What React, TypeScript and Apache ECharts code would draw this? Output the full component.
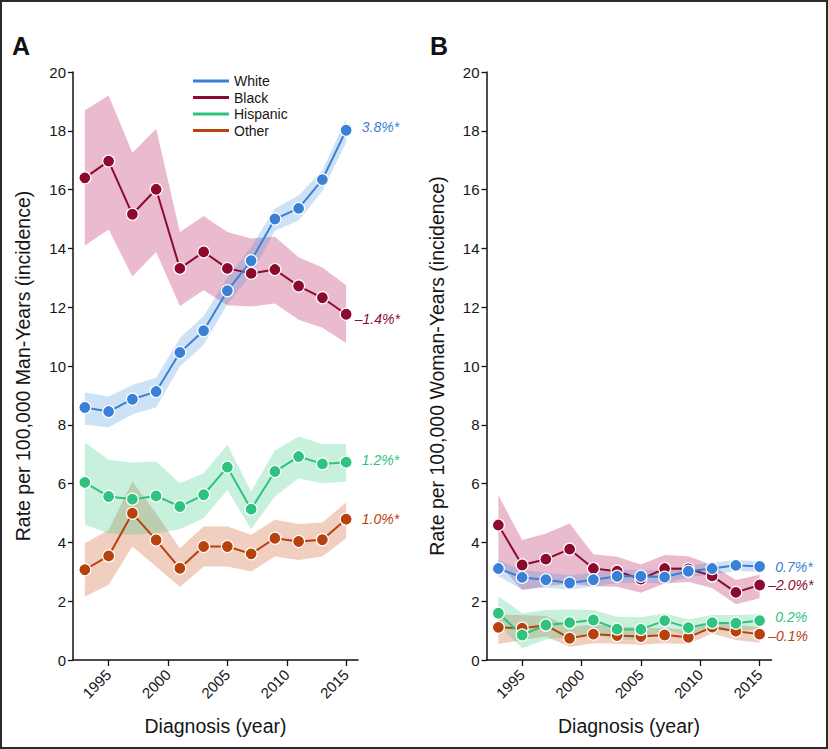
import React, { useEffect, useRef } from "react";
import * as echarts from "echarts";

const years = [1993, 1995, 1997, 1999, 2001, 2003, 2005, 2007, 2009, 2011, 2013, 2015];
const xTickValues = [1995, 2000, 2005, 2010, 2015];
const yTickValues = [0, 2, 4, 6, 8, 10, 12, 14, 16, 18, 20];
const groupNames = ["White", "Black", "Hispanic", "Other"];

// Panel A (men)
const whiteA = [8.59, 8.45, 8.87, 9.13, 10.46, 11.2, 12.56, 13.58, 15.0, 15.36, 16.34, 18.02];
const whiteAHi = [9.1, 8.96, 9.35, 9.6, 10.95, 11.7, 13.0, 14.05, 15.36, 15.8, 16.66, 18.4];
const whiteALo = [8.0, 7.92, 8.35, 8.6, 9.98, 10.72, 12.1, 13.1, 14.6, 14.95, 15.95, 17.6];
const blackA = [16.4, 16.97, 15.16, 16.01, 13.32, 13.88, 13.32, 13.15, 13.28, 12.72, 12.32, 11.76];
const blackAHi = [18.7, 19.2, 17.25, 18.07, 14.56, 15.1, 14.56, 14.34, 14.4, 13.7, 13.35, 12.75];
const blackALo = [14.1, 14.64, 13.04, 13.88, 12.04, 12.58, 12.07, 12.02, 12.13, 11.57, 11.3, 10.78];
const hispA = [6.04, 5.56, 5.47, 5.58, 5.22, 5.62, 6.56, 5.13, 6.41, 6.92, 6.67, 6.73];
const hispAHi = [7.4, 6.81, 6.72, 6.75, 6.01, 6.35, 7.32, 5.73, 7.13, 7.6, 7.35, 7.35];
const hispALo = [4.6, 4.31, 4.26, 4.31, 4.45, 4.82, 5.78, 4.45, 5.56, 6.18, 6.01, 6.07];
const otherA = [3.07, 3.54, 4.99, 4.08, 3.12, 3.86, 3.86, 3.61, 4.14, 4.03, 4.09, 4.79];
const otherAHi = [3.97, 4.42, 6.07, 4.99, 3.8, 4.54, 4.54, 4.26, 4.77, 4.63, 4.68, 5.36];
const otherALo = [2.16, 2.56, 3.86, 3.18, 2.48, 3.18, 3.18, 3.01, 3.52, 3.4, 3.52, 4.14];
const trendA = ["3.8%*", "–1.4%*", "1.2%*", "1.0%*"];

// Panel B (women)
const whiteB = [3.11, 2.81, 2.73, 2.62, 2.73, 2.85, 2.85, 2.82, 3.02, 3.11, 3.22, 3.18];
const whiteBHi = [3.4, 3.05, 2.98, 2.88, 2.97, 3.07, 3.06, 3.04, 3.22, 3.3, 3.4, 3.36];
const whiteBLo = [2.85, 2.4, 2.47, 2.4, 2.5, 2.62, 2.63, 2.6, 2.82, 2.9, 3.03, 3.0];
const blackB = [4.59, 3.23, 3.43, 3.77, 3.11, 3.02, 2.75, 3.11, 3.1, 2.86, 2.3, 2.55];
const blackBHi = [5.6, 4.08, 4.3, 4.64, 3.6, 3.51, 3.25, 3.57, 3.53, 3.23, 2.72, 2.9];
const blackBLo = [3.3, 2.38, 2.51, 2.6, 2.51, 2.49, 2.29, 2.6, 2.65, 2.45, 1.9, 2.1];
const hispB = [1.59, 0.85, 1.19, 1.27, 1.36, 1.05, 1.04, 1.34, 1.1, 1.27, 1.25, 1.34];
const hispBHi = [2.17, 1.59, 1.7, 1.72, 1.7, 1.47, 1.45, 1.59, 1.38, 1.53, 1.53, 1.56];
const hispBLo = [1.2, 0.4, 0.7, 0.79, 0.88, 0.7, 0.68, 1.04, 0.85, 1.02, 0.96, 1.08];
const otherB = [1.11, 1.08, 1.18, 0.74, 0.88, 0.83, 0.8, 0.85, 0.77, 1.12, 0.98, 0.88];
const otherBHi = [1.53, 1.53, 1.5, 1.13, 1.2, 1.15, 1.1, 1.08, 1.02, 1.3, 1.19, 1.13];
const otherBLo = [0.54, 0.68, 0.8, 0.45, 0.57, 0.55, 0.52, 0.57, 0.54, 0.9, 0.68, 0.59];
const trendB = ["0.7%*", "–2.0%*", "0.2%", "–0.1%"];

const lineColors = ["#3a80d6", "#8c0a2e", "#2fc37f", "#b8420c"];
const bandColors = [
  "rgba(60,140,215,0.25)",
  "rgba(190,50,110,0.33)",
  "rgba(50,205,130,0.27)",
  "rgba(200,80,30,0.28)",
];

const FONT = "'Liberation Sans', Arial, Helvetica, sans-serif";
const TXT = "#161616";

function bandSeries(idx: number, axis: number, lo: number[], hi: number[]) {
  return {
    type: "custom",
    name: groupNames[idx] + " band " + axis,
    xAxisIndex: axis,
    yAxisIndex: axis,
    silent: true,
    clip: false,
    data: years.map((y, i) => [y, lo[i], hi[i]]),
    encode: { x: 0, y: [1, 2] },
    renderItem: (params: any, api: any) => {
      if (params.dataIndexInside !== 0) return null;
      const pts: number[][] = [];
      for (let i = 0; i < years.length; i++) pts.push(api.coord([years[i], hi[i]]));
      for (let i = years.length - 1; i >= 0; i--) pts.push(api.coord([years[i], lo[i]]));
      return {
        type: "polygon",
        shape: { points: pts },
        style: { fill: bandColors[idx], stroke: "none" },
      };
    },
  };
}

function lineSeries(idx: number, axis: number, vals: number[], label: string, dy: number) {
  const neg = label.startsWith("–");
  const data: any[] = years.map((y, i) => [y, vals[i]]);
  const last = data.length - 1;
  data[last] = {
    value: data[last],
    label: {
      show: true,
      position: "right",
      distance: 9,
      offset: [neg ? -7 : 0, dy],
      formatter: label,
      color: lineColors[idx],
      fontStyle: "italic",
      fontSize: 14,
      fontFamily: FONT,
    },
  };
  return {
    type: "line",
    name: groupNames[idx],
    xAxisIndex: axis,
    yAxisIndex: axis,
    data,
    symbol: "circle",
    symbolSize: 12,
    showAllSymbol: true,
    lineStyle: { color: lineColors[idx], width: 2 },
    itemStyle: { color: lineColors[idx], borderColor: "#ffffff", borderWidth: 1.2 },
    emphasis: { disabled: true },
    z: 2,
  };
}

function xAxisFor(gridIndex: number) {
  return {
    type: "value",
    gridIndex,
    min: 1992,
    max: 2016,
    name: "Diagnosis (year)",
    nameLocation: "middle",
    nameGap: 56,
    nameTextStyle: { fontSize: 19.5, color: TXT, fontFamily: FONT },
    axisLine: { show: true, lineStyle: { color: "#111", width: 1.5 } },
    axisTick: { show: true, length: 6, customValues: xTickValues, lineStyle: { color: "#111", width: 1.3 } },
    axisLabel: {
      customValues: xTickValues,
      rotate: 45,
      fontSize: 15,
      color: TXT,
      fontFamily: FONT,
      margin: 12,
      formatter: (v: number) => String(v),
    },
    splitLine: { show: false },
  };
}

function yAxisFor(gridIndex: number, name: string) {
  return {
    type: "value",
    gridIndex,
    min: 0,
    max: 20,
    interval: 2,
    name,
    nameLocation: "middle",
    nameGap: 40,
    nameRotate: 90,
    nameTextStyle: { fontSize: 19.5, color: TXT, fontFamily: FONT },
    axisLine: { show: true, lineStyle: { color: "#111", width: 1.5 } },
    axisTick: { show: true, length: 5, lineStyle: { color: "#111", width: 1.3 } },
    axisLabel: {
      fontSize: 15,
      color: TXT,
      fontFamily: FONT,
      margin: 7,
      formatter: (v: number) => (yTickValues.includes(v) ? String(v) : ""),
    },
    splitLine: { show: false },
  };
}

export default function App() {
  const ref = useRef<HTMLDivElement>(null);
  useEffect(() => {
    document.body.style.margin = "0";
    if (!ref.current) return;
    const chart = echarts.init(ref.current, undefined, { renderer: "svg" });
    const groupsA = [
      [whiteA, whiteALo, whiteAHi],
      [blackA, blackALo, blackAHi],
      [hispA, hispALo, hispAHi],
      [otherA, otherALo, otherAHi],
    ];
    const groupsB = [
      [whiteB, whiteBLo, whiteBHi],
      [blackB, blackBLo, blackBHi],
      [hispB, hispBLo, hispBHi],
      [otherB, otherBLo, otherBHi],
    ];
    const dyA = [-3, 5, -2, 0];
    const dyB = [0, 0, -4, 2];
    const series: any[] = [];
    // draw order: Other, Hispanic, Black, White
    for (const idx of [3, 2, 1, 0]) {
      const g = groupsA[idx];
      series.push(bandSeries(idx, 0, g[1], g[2]));
      series.push(lineSeries(idx, 0, g[0], trendA[idx], dyA[idx]));
    }
    for (const idx of [3, 2, 1, 0]) {
      const g = groupsB[idx];
      series.push(bandSeries(idx, 1, g[1], g[2]));
      series.push(lineSeries(idx, 1, g[0], trendB[idx], dyB[idx]));
    }
    chart.setOption({
      animation: false,
      textStyle: { fontFamily: FONT },
      grid: [
        { left: 73, top: 72, width: 285, height: 588 },
        { left: 486.5, top: 72, width: 285, height: 588 },
      ],
      xAxis: [xAxisFor(0), xAxisFor(1)],
      yAxis: [
        yAxisFor(0, "Rate per 100,000 Man-Years (incidence)"),
        yAxisFor(1, "Rate per 100,000 Woman-Years (incidence)"),
      ],
      legend: {
        data: groupNames,
        orient: "vertical",
        left: 193,
        top: 74,
        padding: 0,
        itemGap: 2.5,
        itemWidth: 36,
        itemHeight: 3,
        icon: "rect",
        selectedMode: false,
        itemStyle: { borderWidth: 0 },
        textStyle: { fontSize: 14, color: TXT, fontFamily: FONT },
      },
      graphic: [
        {
          type: "rect",
          shape: { x: 1, y: 1, width: 826, height: 747 },
          style: { fill: "none", stroke: "#2a2a2a", lineWidth: 2 },
          silent: true,
        },
        {
          type: "text",
          left: 12,
          top: 33,
          style: { text: "A", fontSize: 25, fontWeight: "bold", fill: "#111", fontFamily: FONT },
        },
        {
          type: "text",
          left: 430,
          top: 33,
          style: { text: "B", fontSize: 25, fontWeight: "bold", fill: "#111", fontFamily: FONT },
        },
      ],
      series,
    });
    return () => chart.dispose();
  }, []);
  return <div ref={ref} style={{ width: 828, height: 749 }} />;
}
